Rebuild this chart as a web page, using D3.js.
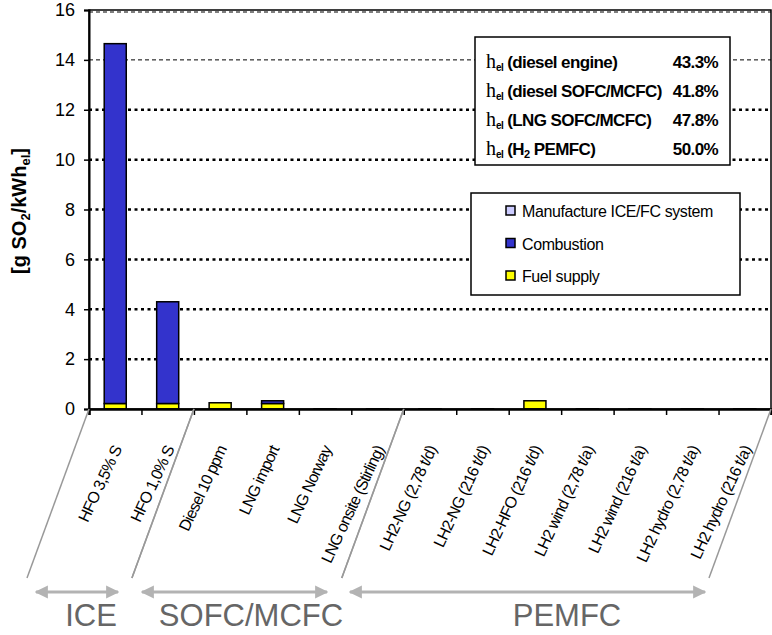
<!DOCTYPE html>
<html><head><meta charset="utf-8">
<script src="https://cdn.jsdelivr.net/npm/d3@7"></script>
<style>body{margin:0;background:#fff}svg{display:block}text{font-family:Arial,"Liberation Sans",sans-serif}</style>
</head><body><svg id="c" width="772" height="635"></svg>
<script>
const categories = ["HFO 3,5% S","HFO 1,0% S","Diesel 10 ppm","LNG import","LNG Norway","LNG onsite (Stirling)","LH2-NG (2,78 t/d)","LH2-NG (216 t/d)","LH2-HFO (216 t/d)","LH2 wind (2,78 t/a)","LH2 wind (216 t/a)","LH2 hydro (2,78 t/a)","LH2 hydro (216 t/a)"];
const fuelSupply  = [0.22,0.22,0.25,0.22,0.01,0.01,0.01,0.01,0.33,0.01,0.01,0.01,0.01];
const combustion  = [14.43,4.08,0,0.11,0,0,0,0,0,0,0,0,0];
const manufacture = [0,0,0,0,0,0,0,0,0,0,0,0,0];
const seriesNames = ["Fuel supply","Combustion","Manufacture ICE/FC system"];
const seriesColors = ["#FFFF00","#3333CC","#CCCCFF"];
const yTicks = [0,2,4,6,8,10,12,14,16];
const effLabels = ["diesel engine","diesel SOFC/MCFC","LNG SOFC/MCFC","H2 PEMFC"];
const effValues = ["43.3%","41.8%","47.8%","50.0%"];
const groups = [{name:"ICE",from:0,to:2},{name:"SOFC/MCFC",from:2,to:6},{name:"PEMFC",from:6,to:13}];

const svg = d3.select("#c");
const L=89,R=771,T=10,B=409;
const x = d3.scaleBand().domain(categories).range([L,R]).paddingInner(0.58).paddingOuter(0.29);
const xb = d3.scaleLinear().domain([0,categories.length]).range([L,R]);
const y = d3.scaleLinear().domain([0,16]).range([B,T]);

// grid
yTicks.filter(v=>v>0 && v<16).forEach(v=>{
  const thin = v===14;
  svg.append("line").attr("x1",L).attr("x2",R).attr("y1",y(v)).attr("y2",y(v))
    .attr("stroke","#000").attr("stroke-width",thin?1:2.5)
    .attr("stroke-dasharray",thin?"4,3":"3,3.5");
});
svg.append("line").attr("x1",L).attr("x2",R).attr("y1",y(16)+2).attr("y2",y(16)+2)
  .attr("stroke","#000").attr("stroke-width",1).attr("stroke-dasharray","4,3");

// stacked bars
const rows = categories.map((c,i)=>({cat:c,"Fuel supply":fuelSupply[i],"Combustion":combustion[i],"Manufacture ICE/FC system":manufacture[i]}));
const stack = d3.stack().keys(seriesNames)(rows);
stack.forEach((s,si)=>{
  svg.append("g").selectAll("rect").data(s).join("rect")
    .attr("x",d=>x(d.data.cat)).attr("width",x.bandwidth())
    .attr("y",d=>y(d[1])).attr("height",d=>Math.max(0,y(d[0])-y(d[1])))
    .attr("fill",seriesColors[si]).attr("stroke","#000").attr("stroke-width",1.5);
});

// frame
svg.append("rect").attr("x",L).attr("y",T).attr("width",R-L).attr("height",B-T)
  .attr("fill","none").attr("stroke","#000").attr("stroke-width",1.5);

// y axis
const ya = svg.append("g").attr("transform",`translate(${L},0)`)
  .call(d3.axisLeft(y).tickValues(yTicks).tickSize(5).tickPadding(9));
ya.select(".domain").attr("stroke-width",2);
ya.selectAll(".tick line").attr("stroke-width",1.5);
ya.selectAll("text").attr("font-size",18).attr("fill","#000").attr("font-family","Arial");

// x axis ticks
const xa = svg.append("g").attr("transform",`translate(0,${B})`)
  .call(d3.axisBottom(xb).tickValues(d3.range(0,categories.length+1)).tickSize(6).tickFormat(""));
xa.select(".domain").attr("stroke-width",2.5);
xa.selectAll(".tick line").attr("stroke-width",1.5);

// x labels
svg.append("g").selectAll("text").data(categories).join("text")
  .attr("transform",d=>`translate(${x(d)+x.bandwidth()/2+7},${B+40}) rotate(-65)`)
  .attr("text-anchor","end").attr("font-size",16).attr("letter-spacing",-0.8).text(d=>d);

// y title
const yt = svg.append("text").attr("transform","translate(26,211) rotate(-90)")
  .attr("text-anchor","middle").attr("font-size",20).attr("font-weight","bold");
yt.append("tspan").text("[g SO");
yt.append("tspan").attr("font-size",13).attr("dy",4).text("2");
yt.append("tspan").attr("dy",-4).text("/kWh");
yt.append("tspan").attr("font-size",13).attr("dy",4).text("el");
yt.append("tspan").attr("dy",-4).text("]");

// group separators
groups.forEach(g=>{
  [g.from,g.to].forEach(t=>{
    svg.append("line").attr("x1",xb(t)).attr("y1",B).attr("x2",xb(t)-62).attr("y2",578)
      .attr("stroke","#999").attr("stroke-width",1.5);
  });
});
// arrows
const defs = svg.append("defs");
defs.append("marker").attr("id","ah").attr("viewBox","0 0 10 10").attr("refX",9).attr("refY",5)
  .attr("markerWidth",4.4).attr("markerHeight",4.4).attr("markerUnits","strokeWidth").attr("orient","auto-start-reverse")
  .append("path").attr("d","M0,0L10,5L0,10z").attr("fill","#b3b3b3");
const arrowX = [[36,118],[142,327],[350,705]];
const labelX = [91,251,567];
groups.forEach((g,i)=>{
  svg.append("line").attr("x1",arrowX[i][0]).attr("x2",arrowX[i][1]).attr("y1",592).attr("y2",592)
    .attr("stroke","#b3b3b3").attr("stroke-width",3)
    .attr("marker-end","url(#ah)").attr("marker-start","url(#ah)");
  svg.append("text").attr("x",labelX[i]).attr("y",626).attr("text-anchor","middle")
    .attr("font-size",31).attr("fill","#666").text(g.name);
});

// efficiency box
svg.append("rect").attr("x",475).attr("y",37).attr("width",255).attr("height",128)
  .attr("fill","#fff").attr("stroke","#000").attr("stroke-width",1.5);
effLabels.forEach((lab,i)=>{
  const yy = 68+i*29;
  const t = svg.append("text").attr("x",486).attr("y",yy).attr("font-size",17).attr("font-weight","bold").attr("letter-spacing",-0.6);
  t.append("tspan").attr("font-family","Times New Roman, Liberation Serif, serif").attr("font-weight","normal").attr("font-size",20).attr("letter-spacing",0).text("h");
  t.append("tspan").attr("font-size",10).attr("dy",3).text("el");
  if(lab==="H2 PEMFC"){
    t.append("tspan").attr("dy",-3).text(" (H");
    t.append("tspan").attr("font-size",11).attr("dy",3).text("2");
    t.append("tspan").attr("dy",-3).text(" PEMFC)");
  } else {
    t.append("tspan").attr("dy",-3).text(" ("+lab+")");
  }
  svg.append("text").attr("x",718).attr("y",yy).attr("text-anchor","end").attr("font-size",17)
    .attr("font-weight","bold").attr("letter-spacing",-0.6).text(effValues[i]);
});

// legend
svg.append("rect").attr("x",471).attr("y",193).attr("width",269).attr("height",102)
  .attr("fill","#fff").attr("stroke","#000").attr("stroke-width",1.5);
const legOrder = [2,1,0];
legOrder.forEach((si,k)=>{
  const yy = 211+k*32.5;
  svg.append("rect").attr("x",506).attr("y",yy-5).attr("width",9).attr("height",9)
    .attr("fill",seriesColors[si]).attr("stroke","#000").attr("stroke-width",1.5);
  svg.append("text").attr("x",522).attr("y",yy+6).attr("font-size",16).attr("letter-spacing",-0.4).text(seriesNames[si]);
});
</script></body></html>
